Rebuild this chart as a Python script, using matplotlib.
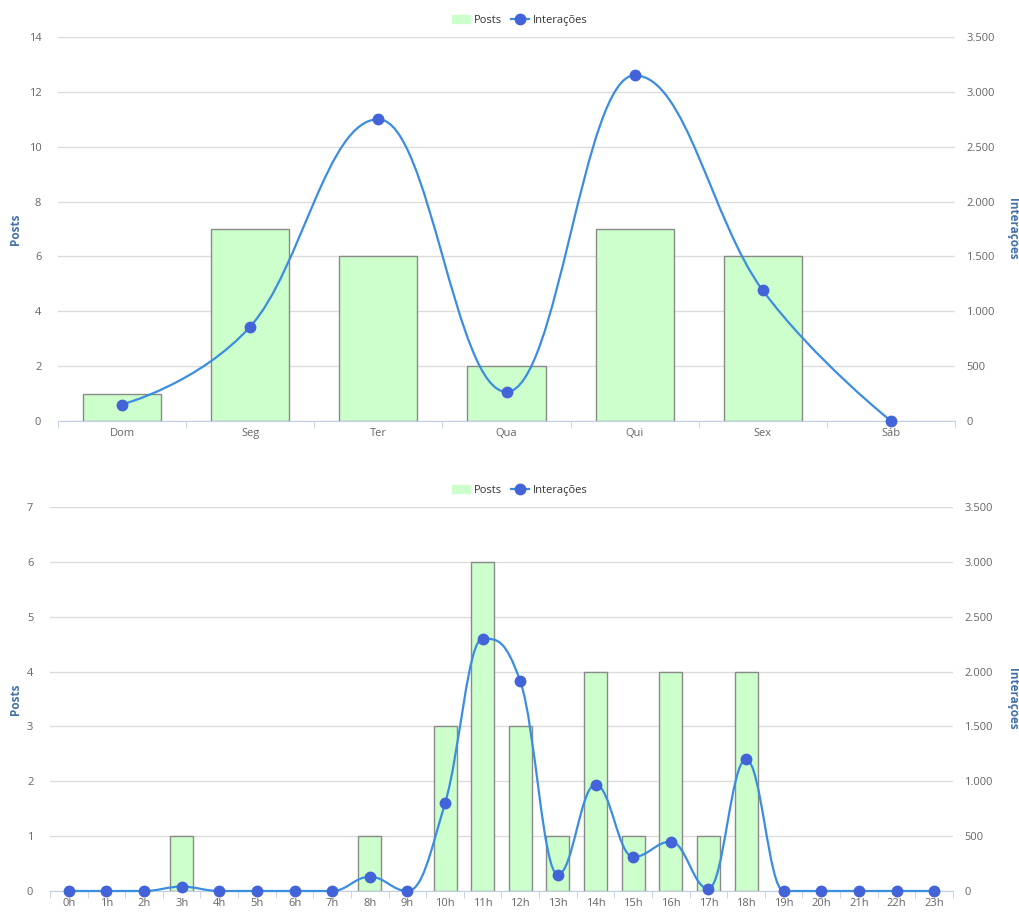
import numpy as np
import matplotlib
matplotlib.use("Agg")
import matplotlib.pyplot as plt
from matplotlib.path import Path
from matplotlib.patches import PathPatch, Patch
from matplotlib.lines import Line2D
from matplotlib.ticker import FuncFormatter, MultipleLocator

plt.rcParams['font.family'] = ['Open Sans', 'DejaVu Sans']

# data
dias = ['Dom', 'Seg', 'Ter', 'Qua', 'Qui', 'Sex', 'Sáb']
posts_dia = [1, 7, 6, 2, 7, 6, 0]
inter_dia = [150, 860, 2750, 265, 3150, 1190, 0]

horas = [f'{h}h' for h in range(24)]
posts_hora = [0, 0, 0, 1, 0, 0, 0, 0, 1, 0, 3, 6, 3, 1, 4, 1, 4, 1, 4, 0, 0, 0, 0, 0]
inter_hora = [0, 0, 0, 40, 0, 0, 0, 0, 130, 0, 800, 2300, 1910, 150, 970, 310, 450, 20, 1200,
              0, 0, 0, 0, 0]

BAR = '#ccffcc'
EDGE = '#8a8a8a'
LINE = '#3b8de0'
MARK = '#4363d8'
TITLE = '#4572a7'
TICK = '#666666'


def spline_path(xs, ys, smoothing=1.5):
    # highcharts-style spline: cubic bezier through the points
    n = len(xs)
    left = [None] * n
    right = [None] * n
    denom = smoothing + 1
    for i in range(1, n - 1):
        px, py = xs[i], ys[i]
        lx, ly = xs[i - 1], ys[i - 1]
        nx, ny = xs[i + 1], ys[i + 1]
        lcx = (smoothing * px + lx) / denom
        lcy = (smoothing * py + ly) / denom
        rcx = (smoothing * px + nx) / denom
        rcy = (smoothing * py + ny) / denom
        if rcx != lcx:
            corr = (rcy - lcy) * (rcx - px) / (rcx - lcx) + py - rcy
            lcy += corr
            rcy += corr
        if lcy > ly and lcy > py:
            lcy = max(ly, py)
            rcy = 2 * py - lcy
        elif lcy < ly and lcy < py:
            lcy = min(ly, py)
            rcy = 2 * py - lcy
        if rcy > ny and rcy > py:
            rcy = max(ny, py)
            lcy = 2 * py - rcy
        elif rcy < ny and rcy < py:
            rcy = min(ny, py)
            lcy = 2 * py - rcy
        left[i] = (lcx, lcy)
        right[i] = (rcx, rcy)
    verts = [(xs[0], ys[0])]
    codes = [Path.MOVETO]
    for i in range(1, n):
        c1 = right[i - 1] if right[i - 1] is not None else (xs[i - 1], ys[i - 1])
        c2 = left[i] if left[i] is not None else (xs[i], ys[i])
        verts += [c1, c2, (xs[i], ys[i])]
        codes += [Path.CURVE4] * 3
    return Path(verts, codes)


def thousands(v, pos):
    return f'{int(v):,}'.replace(',', '.')


def draw(ax, cats, posts, inter, ymax, lab_x, leg_x):
    x = np.arange(len(cats))
    ax.set_axisbelow(True)
    lw = [1 if p else 0 for p in posts]
    ax.bar(x, posts, width=0.61, color=BAR, edgecolor=EDGE, linewidth=lw, zorder=2)
    ax.set_xlim(-0.5, len(cats) - 0.5)
    ax.set_ylim(0, ymax)
    ax.yaxis.set_major_locator(MultipleLocator(ymax / 7))
    ax.grid(axis='y', color='#dcdcdc', linewidth=1)
    for s in ['top', 'left', 'right']:
        ax.spines[s].set_visible(False)
    ax.spines['bottom'].set_color('#c0d0e0')
    ax.set_xticks(x)
    ax.set_xticklabels(cats)
    ax.set_xticks(np.arange(-0.5, len(cats)), minor=True)
    ax.tick_params(axis='x', which='major', length=0, labelsize=8, colors=TICK, pad=5)
    ax.tick_params(axis='x', which='minor', length=5, color='#c0d0e0')
    ax.tick_params(axis='y', length=0, labelsize=8, colors=TICK, pad=12)
    ax.set_ylabel('Posts', color=TITLE, fontsize=8.5, fontweight='bold', va='center')
    ax.yaxis.set_label_coords(lab_x[0], 0.5)

    ax2 = ax.twinx()
    ax2.set_ylim(0, 3500)
    ax2.yaxis.set_major_locator(MultipleLocator(500))
    ax2.yaxis.set_major_formatter(FuncFormatter(thousands))
    for s in ax2.spines.values():
        s.set_visible(False)
    ax2.tick_params(axis='y', length=0, labelsize=8, colors=TICK, pad=8)
    ax2.set_ylabel('Interações', color=TITLE, fontsize=8.5, fontweight='bold',
                   rotation=270, va='center')
    ax2.yaxis.set_label_coords(lab_x[1], 0.5)
    ax2.add_patch(PathPatch(spline_path(list(x), list(inter)), facecolor='none',
                            edgecolor=LINE, linewidth=1.6, zorder=3, clip_on=False))
    ax2.plot(x, inter, linestyle='none', marker='o', markersize=7.5, color=MARK,
             zorder=4, clip_on=False)

    handles = [Patch(facecolor=BAR, edgecolor=BAR),
               Line2D([], [], color=LINE, linewidth=1.6, marker='o', markersize=7.5,
                      markerfacecolor=MARK, markeredgecolor=MARK)]
    ax2.legend(handles, ['Posts', 'Interações'], loc='lower center',
               bbox_to_anchor=(leg_x, 1.0), ncol=2, frameon=False, fontsize=8,
               handlelength=1.6, columnspacing=0.8, handletextpad=0.4,
               labelcolor='#333333', borderaxespad=0.6)


fig = plt.figure(figsize=(10.2, 9.13), dpi=100)
ax_top = fig.add_axes([58 / 1020, 0.5389, 897 / 1020, 0.4206])
ax_bot = fig.add_axes([50 / 1020, 0.0241, 903 / 1020, 0.4206])

draw(ax_top, dias, posts_dia, inter_dia, 14,
     ((15 - 58) / 897, (1012 - 58) / 897), (520 - 58) / 897)
draw(ax_bot, horas, posts_hora, inter_hora, 7,
     ((15 - 50) / 903, (1012 - 50) / 903), (520 - 50) / 903)

fig.savefig('out.png', dpi=100)
